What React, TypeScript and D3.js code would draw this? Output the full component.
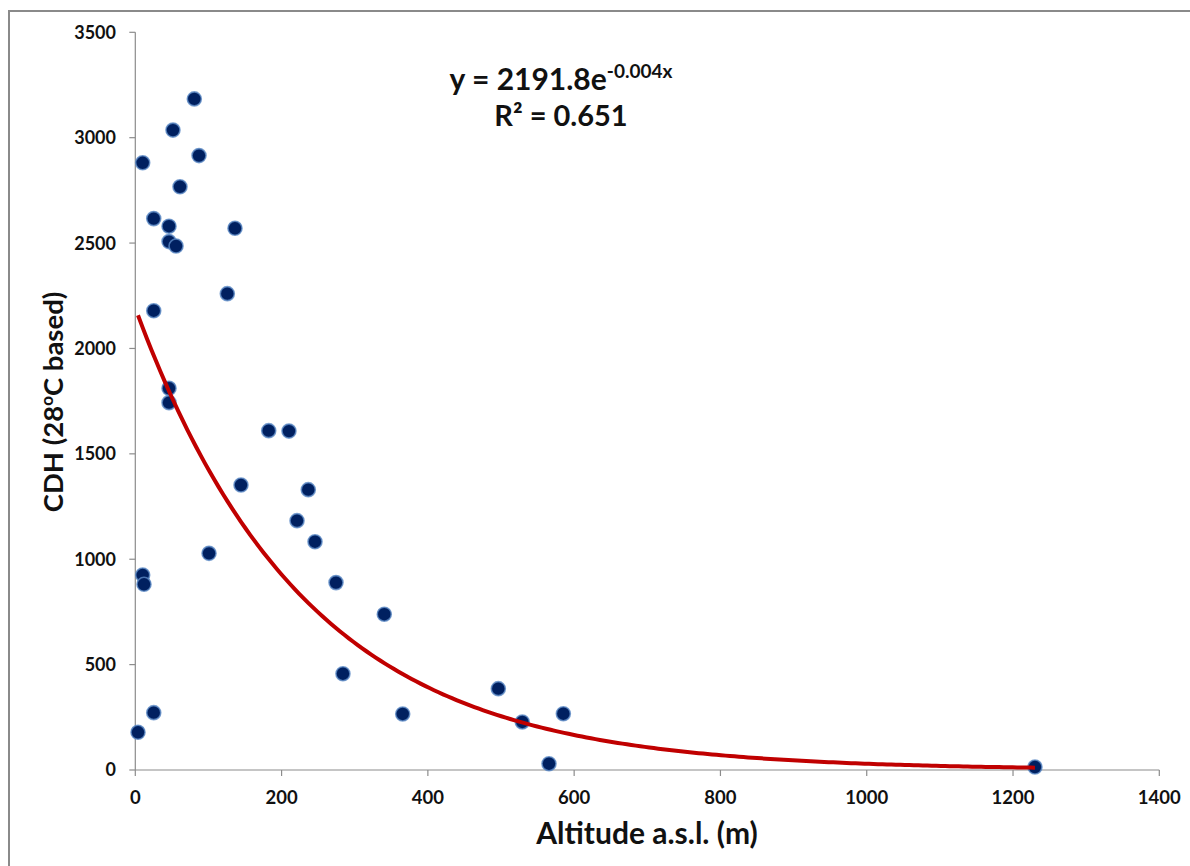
import React from "react";
import * as d3 from "d3";

const altitude = [3.7, 10.1, 10.1, 11.9, 25.2, 25.2, 25.2, 46.1, 46.1, 55.7, 46.1, 46.1, 51.5, 61.1, 80.7, 87.1, 100.8, 125.8, 136.3, 144.5, 182.4, 210.1, 221.1, 236.5, 245.7, 274.4, 283.9, 340.4, 365.6, 496.3, 529.1, 565.6, 585.2, 1230];
const cdh = [179, 2881, 925, 881, 2616, 2179, 272, 2580, 2507, 2486, 1811, 1743, 3036, 2767, 3184, 2915, 1028, 2260, 2570, 1352, 1610, 1608, 1183, 1330, 1083, 889, 457, 739, 266, 386, 228, 30, 267, 14];
const xTicks = [0, 200, 400, 600, 800, 1000, 1200, 1400];
const yTicks = [0, 500, 1000, 1500, 2000, 2500, 3000, 3500];
// exponential trendline (label shows the rounded exponent)
const fitA = 2191.8;
const fitB = -0.0043;
const eqMain = "y = 2191.8e";
const eqExp = "-0.004x";
const eqR2 = "R² = 0.651";

const W = 1190;
const H = 866;
const FONT = "Lato, 'Open Sans', sans-serif";

export default function App() {
  const x = d3.scaleLinear().domain([0, 1400]).range([135.3, 1159.3]);
  const y = d3.scaleLinear().domain([0, 3500]).range([770, 32.3]);
  const xmin = d3.min(altitude) as number;
  const xmax = d3.max(altitude) as number;
  const samples = d3.range(0, 201).map((i) => xmin + ((xmax - xmin) * i) / 200);
  const line = d3
    .line<number>()
    .x((v) => x(v))
    .y((v) => y(fitA * Math.exp(fitB * v)));
  const axisColor = "#8c8c8c";
  return (
    <svg
      width={W}
      height={H}
      style={{ position: "absolute", left: 0, top: 0, background: "#fff" }}
      fontFamily={FONT}
    >
      <rect x={9} y={11} width={W + 20} height={H + 20} fill="#fff" stroke="#8a8a8a" strokeWidth={2} />
      {/* axes */}
      <line x1={x(0)} x2={x(0)} y1={y(3500)} y2={y(0)} stroke={axisColor} strokeWidth={1.2} />
      <line x1={x(0)} x2={x(1400)} y1={y(0)} y2={y(0)} stroke={axisColor} strokeWidth={1.2} />
      {yTicks.map((t) => (
        <g key={"y" + t}>
          <line x1={x(0) - 6} x2={x(0)} y1={y(t)} y2={y(t)} stroke={axisColor} strokeWidth={1.2} />
          <text x={116} y={y(t)} dy="0.36em" textAnchor="end" fontSize={18} fontWeight={700} fill="#111">
            {t}
          </text>
        </g>
      ))}
      {xTicks.map((t) => (
        <g key={"x" + t}>
          <line x1={x(t)} x2={x(t)} y1={y(0)} y2={y(0) + 6} stroke={axisColor} strokeWidth={1.2} />
          <text x={x(t)} y={804} textAnchor="middle" fontSize={18.5} fontWeight={700} fill="#111">
            {t}
          </text>
        </g>
      ))}
      {/* axis titles */}
      <text x={647} y={844} textAnchor="middle" fontSize={30} fontWeight={700} fill="#111">
        Altitude a.s.l. (m)
      </text>
      <text
        transform={`translate(63,402) rotate(-90)`}
        textAnchor="middle"
        fontSize={27.5}
        fontWeight={700}
        fill="#111"
      >
        CDH (28<tspan fontSize={17} dy={-10}>o</tspan>
        <tspan dy={10}>C based)</tspan>
      </text>
      {/* points */}
      {altitude.map((a, i) => (
        <circle
          key={"p" + i}
          cx={x(a)}
          cy={y(cdh[i])}
          r={7}
          fill="#002060"
          stroke="#5b8ac6"
          strokeOpacity={0.8}
          strokeWidth={1.6}
        />
      ))}
      {/* trend line */}
      <path d={line(samples) || ""} fill="none" stroke="#c00000" strokeWidth={4} strokeLinejoin="round" />
      {/* equation */}
      <text x={561} y={90} textAnchor="middle" fontSize={30} fontWeight={700} fill="#111">
        {eqMain}
        <tspan fontSize={19} dy={-12}>{eqExp}</tspan>
      </text>
      <text x={561} y={126} textAnchor="middle" fontSize={29} fontWeight={700} fill="#111">
        {eqR2}
      </text>
    </svg>
  );
}
